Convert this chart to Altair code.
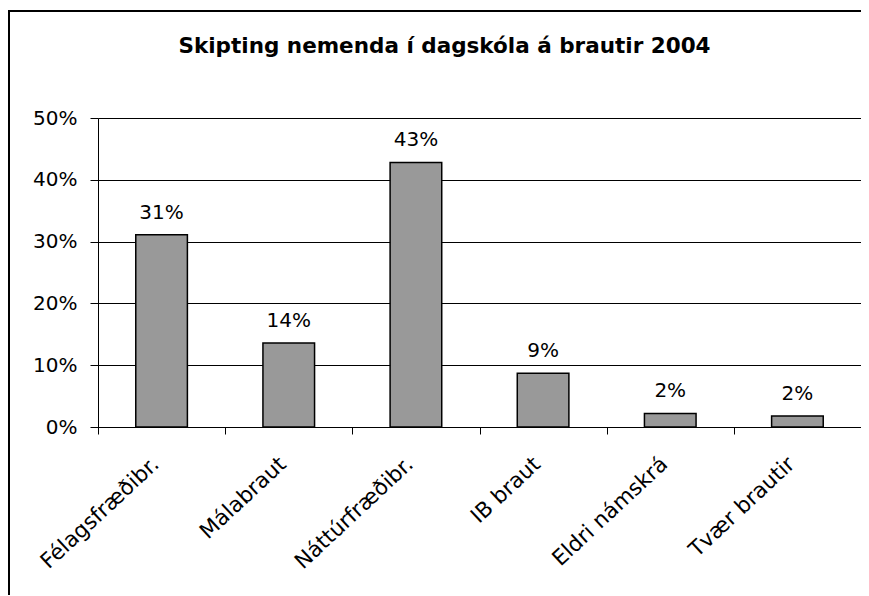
import altair as alt
import pandas as pd

categories = ["Félagsfræðibr.", "Málabraut", "Náttúrfræðibr.", "IB braut", "Eldri námskrá", "Tvær brautir"]
shares = [0.311, 0.136, 0.428, 0.087, 0.022, 0.018]
y_ticks = [0, 0.1, 0.2, 0.3, 0.4, 0.5]
title_text = "Skipting nemenda í dagskóla á brautir 2004"

df = pd.DataFrame({"braut": categories, "hlutfall": shares})

FONT = "DejaVu Sans"

x_enc = alt.X(
    "braut:N",
    sort=categories,
    scale=alt.Scale(paddingInner=0, paddingOuter=0),
    axis=alt.Axis(
        title=None,
        tickBand="extent",
        domainColor="black",
        tickColor="black",
        tickSize=7,
        labelAngle=-43,
        labelAlign="right",
        labelBaseline="middle",
        labelPadding=27,
        labelOffset=-6,
        labelFontSize=21.5,
        labelFont=FONT,
        labelColor="black",
        grid=False,
    ),
)
y_enc = alt.Y(
    "hlutfall:Q",
    scale=alt.Scale(domain=[0, 0.5], nice=False),
    axis=alt.Axis(
        title=None,
        values=y_ticks,
        format=".0%",
        domainColor="black",
        tickColor="black",
        tickSize=8,
        labelPadding=13,
        labelFontSize=20,
        labelFont=FONT,
        labelColor="black",
        grid=True,
        gridColor="black",
        gridWidth=1,
    ),
)

frame = alt.Chart(pd.DataFrame({"f": [0]})).mark_rect(
    fill="white", fillOpacity=0, stroke="black", strokeWidth=2
).encode(
    x=alt.value(-89), x2=alt.value(820), y=alt.value(-107), y2=alt.value(520)
)

bars = alt.Chart(df).mark_bar(
    width=alt.RelativeBandSize(0.406), color="#999999", stroke="black", strokeWidth=1.5
).encode(x=x_enc, y=y_enc)

labels = alt.Chart(df).mark_text(
    baseline="alphabetic", dy=-16, fontSize=20, font=FONT, color="black"
).encode(
    x=alt.X("braut:N", sort=categories),
    y="hlutfall:Q",
    text=alt.Text("hlutfall:Q", format=".0%"),
)

chart = alt.layer(frame, bars, labels).properties(
    width=763,
    height=309,
    title=alt.TitleParams(
        text=title_text,
        font=FONT,
        fontSize=21.5,
        fontWeight="bold",
        color="black",
        anchor="middle",
        baseline="alphabetic",
        dx=-35,
        offset=-64,
    ),
    autosize=alt.AutoSizeParams(type="none"),
    padding={"left": 90, "top": 110, "right": 0, "bottom": 168},
).configure_view(
    stroke="#808080", strokeWidth=1
).configure(background="white")

chart.save("out.html", embed_options={"renderer": "svg", "actions": False})
